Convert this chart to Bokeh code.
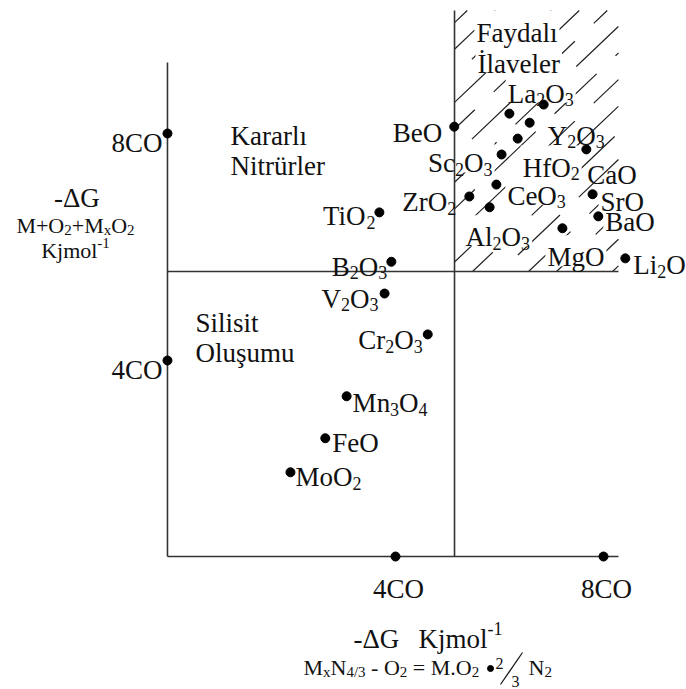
from bokeh.plotting import figure
from bokeh.models import ColumnDataSource, Range1d
from bokeh.embed import file_html
from bokeh.resources import INLINE
from bokeh.core.properties import value, field

# ---------------- data (values in "CO" units) ----------------
oxide_names = ["BeO", "La2O3", "", "Y2O3", "HfO2", "Sc2O3", "CaO", "CeO3", "ZrO2",
               "Al2O3", "SrO", "BaO", "MgO", "Li2O", "TiO2", "B2O3", "V2O3",
               "Cr2O3", "Mn3O4", "FeO", "MoO2"]
oxide_x = [5.13, 6.85, 6.19, 6.58, 6.35, 6.04, 7.67, 5.94, 5.42,
           5.81, 7.79, 7.90, 7.21, 8.42, 3.69, 3.92, 3.79,
           4.62, 3.06, 2.65, 1.98]
oxide_y = [8.12, 8.51, 8.35, 8.19, 7.91, 7.63, 7.72, 7.10, 6.89,
           6.70, 6.93, 6.54, 6.33, 5.80, 6.61, 5.74, 5.18,
           4.46, 3.37, 2.63, 2.03]

tick_values = [4, 8]
tick_labels = ["4CO", "8CO"]

# chart structure (data units)
Y_AXIS_X = -0.385
X_AXIS_Y = 0.546
DIV_X = 5.135
DIV_Y = 5.568
X_END = 8.288
Y_AXIS_TOP = 9.251
DIV_TOP = 10.167

# ---------------- layout / style ----------------
W, H = 686, 689
PX_X, PX_Y = 52.0, 56.75
X_MIN = 4 - 395 / PX_X
X_MAX = X_MIN + W / PX_X
Y_MAX = 8 + 133 / PX_Y
Y_MIN = Y_MAX - H / PX_Y

FONT = "Liberation Serif"
INK = "#111111"
LINE = "#333333"

# label placement: (anchor, dx px, dy px) relative to the dot
label_style = [("end", -12, 6), ("start", -36, -11), None, ("start", 18, 13),
               ("start", 5, 29), ("end", -9, 9), ("start", 1, 26), ("start", 11, 11),
               ("end", -13, 6), ("start", -24, 30), ("start", 8, 8), ("start", 7, 6),
               ("start", -15, 29), ("start", 8, 7), ("end", -4, 4), ("end", -4, 5),
               ("end", -6, 5), ("end", -5, 6), ("start", 6, 7), ("start", 7, 5),
               ("start", 5, 5)]

WID = {' ': 250, '-': 333, '.': 250, '/': 278, '=': 564, '+': 564, '•': 350, 'Δ': 612,
       'A': 722, 'B': 667, 'C': 667, 'D': 722, 'E': 611, 'F': 556, 'G': 722, 'H': 722,
       'I': 333, 'İ': 333, 'J': 389, 'K': 722, 'L': 611, 'M': 889, 'N': 722, 'O': 722,
       'P': 556, 'R': 667, 'S': 556, 'T': 611, 'V': 722, 'Y': 722, 'Z': 611,
       'a': 444, 'b': 500, 'c': 444, 'd': 500, 'e': 444, 'f': 333, 'g': 500, 'h': 500,
       'i': 278, 'ı': 278, 'j': 278, 'k': 500, 'l': 278, 'm': 778, 'n': 500, 'o': 500,
       'r': 333, 's': 389, 'ş': 389, 't': 278, 'u': 500, 'ü': 500, 'v': 500, 'x': 500,
       'y': 500, 'z': 444}


def wtext(t, size):
    return sum(WID.get(ch, 500) for ch in t) * size / 1000.0


def parse(s, formula=False):
    """markup: _{..} subscript, ^{..} superscript; in formulas digits are subscripts"""
    runs = []
    i = 0
    while i < len(s):
        if s[i] in "_^" and i + 1 < len(s) and s[i + 1] == "{":
            j = s.index("}", i)
            runs.append((s[i + 2:j], "sub" if s[i] == "_" else "sup"))
            i = j + 1
            continue
        kind = "sub" if (formula and s[i].isdigit()) else "n"
        if runs and runs[-1][1] == kind and (kind == "n" or formula):
            runs[-1] = (runs[-1][0] + s[i], kind)
        else:
            runs.append((s[i], kind))
        i += 1
    return runs


T = dict(x=[], y=[], text=[], size=[])


def run_size(fs, kind):
    return fs if kind == "n" else round(fs * 0.66)


def place(runs, x, y, dx, dy, fs, anchor="start"):
    total = sum(wtext(t, run_size(fs, k)) for t, k in runs)
    start = dx - (total if anchor == "end" else total / 2 if anchor == "center" else 0)
    cur = start
    for t, k in runs:
        sz = run_size(fs, k)
        shift = 0 if k == "n" else (0.22 * fs if k == "sub" else -0.36 * fs)
        lead = len(t) - len(t.lstrip(" "))
        cur += lead * 250 * sz / 1000.0
        core = t.strip(" ")
        T["x"].append(x + cur / PX_X)
        T["y"].append(y - (dy + shift) / PX_Y)
        T["text"].append(core)
        T["size"].append(f"{sz}px")
        cur += wtext(t.lstrip(" "), sz)
    return x + start / PX_X, x + (start + total) / PX_X


def at_px(px, py):
    return X_MIN + px / PX_X, Y_MAX - py / PX_Y


p = figure(width=W, height=H, x_range=Range1d(X_MIN, X_MAX), y_range=Range1d(Y_MIN, Y_MAX),
           output_backend="svg", toolbar_location=None, min_border=0)
p.axis.visible = False
p.xgrid.visible = False
p.ygrid.visible = False
p.outline_line_color = None
p.background_fill_color = "white"

# ---- hatch in the "Faydalı İlaveler" region (broken diagonal strokes) ----
slope = 0.95 * PX_X / PX_Y
step = 28 / PX_X
c0 = DIV_X - 10 / PX_X
groups = {0: ([], [], [], []), 1: ([], [], [], []), 2: ([], [], [], [])}
for k in range(-25, 25):
    c = c0 + k * step
    xa = max(DIV_X, c)
    xb = min(X_END, c + (DIV_TOP - DIV_Y) / slope)
    if xa < xb:
        g = groups[k % 3]
        g[0].append(xa); g[1].append(DIV_Y + slope * (xa - c))
        g[2].append(xb); g[3].append(DIV_Y + slope * (xb - c))
for gi, off in zip(groups, (0, 30, 60)):
    g = groups[gi]
    p.segment(g[0], g[1], g[2], g[3], line_color="#222222", line_width=1.2,
              line_dash="58 26", line_dash_offset=off)

# white boxes behind labels inside the hatched region (they interrupt the hatch)
box_l, box_r, box_b, box_t = [], [], [], []


def add_box(l, r, base_y, pad=2):
    if r > DIV_X and base_y > DIV_Y:
        box_l.append(max(l - pad / PX_X, DIV_X + 1.5 / PX_X)); box_r.append(r + pad / PX_X)
        box_b.append(max(base_y - 9 / PX_Y, DIV_Y + 1.5 / PX_Y)); box_t.append(base_y + 22 / PX_Y)


for txt, (px_, py_) in [("Faydalı", (476, 32)), ("İlaveler", (477, 63))]:
    ax, ay = at_px(px_, py_)
    l, r = place(parse(txt), ax, ay, 0, 0, 27)
    add_box(l, r, ay)

# ---- oxide labels ----
for name, x, y, st in zip(oxide_names, oxide_x, oxide_y, label_style):
    if not name or st is None:
        continue
    anchor, dx, dy = st
    l, r = place(parse(name, formula=True), x, y, dx, dy, 27, anchor)
    if name not in ("Y2O3", "CaO", "BeO", "ZrO2"):
        add_box(l, r, y - dy / PX_Y)

p.quad(left=box_l, right=box_r, bottom=box_b, top=box_t, fill_color="white", line_color=None)

# ---- axes and dividers ----
p.line([Y_AXIS_X, Y_AXIS_X], [X_AXIS_Y, Y_AXIS_TOP], line_color=LINE, line_width=1.6)
p.line([Y_AXIS_X, X_END], [X_AXIS_Y, X_AXIS_Y], line_color=LINE, line_width=1.6)
p.line([DIV_X, DIV_X], [X_AXIS_Y, DIV_TOP], line_color=LINE, line_width=1.6)
p.line([Y_AXIS_X, X_END], [DIV_Y, DIV_Y], line_color=LINE, line_width=1.6)

p.scatter(oxide_x, oxide_y, size=9, color="black")

# ---- ticks ----
p.scatter([Y_AXIS_X] * len(tick_values), tick_values, size=9, color="black")
p.scatter(tick_values, [X_AXIS_Y] * len(tick_values), size=9, color="black")
for v, lab in zip(tick_values, tick_labels):
    place(parse(lab), Y_AXIS_X, v, -5, 9, 27, "end")
    place(parse(lab), v, X_AXIS_Y, 3, 32, 27, "center")

# ---- region labels ----
for txt, (px_, py_) in [("Kararlı", (230, 135)), ("Nitrürler", (230, 165)),
                        ("Silisit", (195, 322)), ("Oluşumu", (195, 352))]:
    ax, ay = at_px(px_, py_)
    place(parse(txt), ax, ay, 0, 0, 27)

# ---- axis titles ----
ax, ay = at_px(76, 197)
place(parse("-ΔG"), ax, ay, 0, 0, 27, "center")
ax, ay = at_px(75, 225)
place(parse("M+O_{2}+M_{x}O_{2}"), ax, ay, 0, 0, 22, "center")
ax, ay = at_px(75, 250)
place(parse("Kjmol^{-1}"), ax, ay, 0, 0, 22, "center")

ax, ay = at_px(353, 638)
place(parse("-ΔG"), ax, ay, 0, 0, 27)
ax, ay = at_px(418, 638)
place(parse("Kjmol^{-1}"), ax, ay, 0, 0, 27)

ax, ay = at_px(303, 667)
place(parse("M_{x}N_{4/3} - O_{2} = M.O_{2}"), ax, ay, 0, 0, 22)
bx, by = at_px(490, 668)
p.scatter([bx], [by], size=6, color="black")
ax, ay = at_px(495, 663)
place(parse("2"), ax, ay, 0, 0, 16)
ax, ay = at_px(511, 681)
place(parse("3"), ax, ay, 0, 0, 16)
s0 = at_px(500, 684)
s1 = at_px(522, 652)
p.segment([s0[0]], [s0[1]], [s1[0]], [s1[1]], line_color=INK, line_width=1.2)
ax, ay = at_px(528, 667)
place(parse("N_{2}"), ax, ay, 0, 0, 22)

src = ColumnDataSource(T)
p.text(x="x", y="y", text="text", source=src, text_font=value(FONT),
       text_font_size=field("size"), text_align="left", text_baseline="alphabetic",
       text_color=INK)

open("out.html", "w").write(file_html(p, INLINE))
